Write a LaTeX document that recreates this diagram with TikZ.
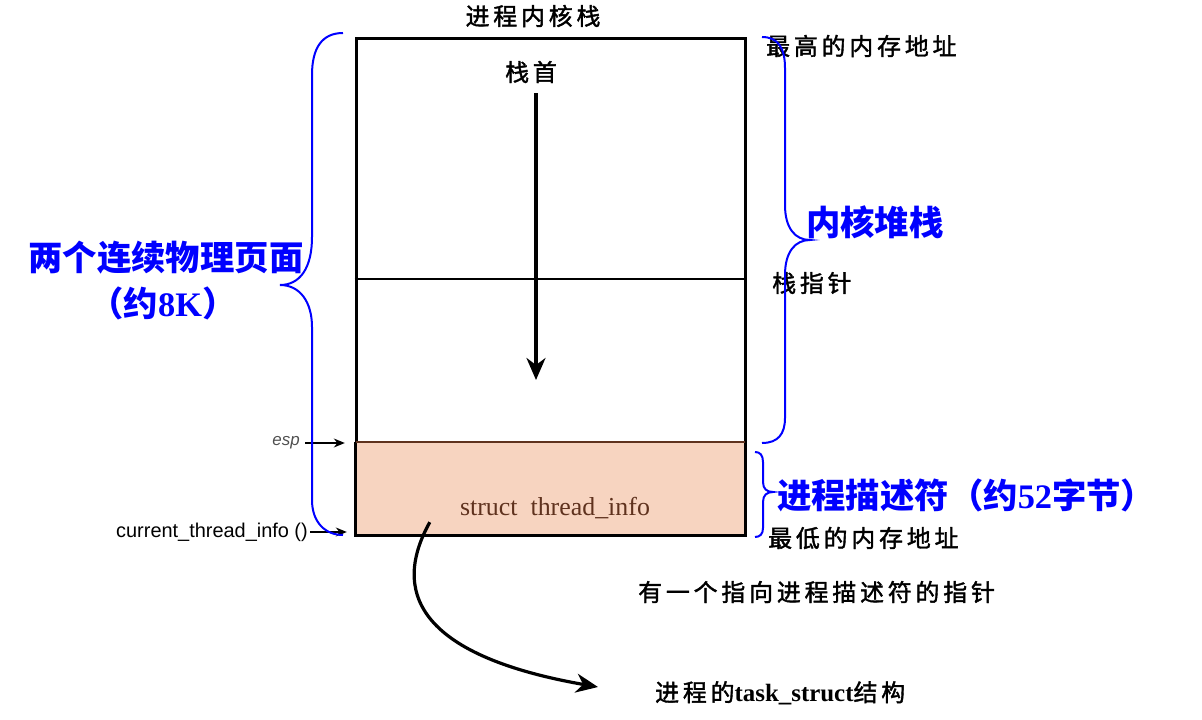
\documentclass[tikz,border=0pt]{standalone}
\usepackage{fontspec}
\newfontfamily\cjk[LetterSpace=16, FakeBold=1.6]{Noto Sans CJK SC}
\newfontfamily\cjkb{Noto Sans CJK SC}
\newfontfamily\lat{Liberation Serif}
\newfontfamily\lsans{Liberation Sans}
\usetikzlibrary{calc,arrows.meta,positioning}

\definecolor{pinkfill}{RGB}{247,212,192}
\definecolor{brownline}{RGB}{95,50,30}
\definecolor{labelgray}{RGB}{80,80,80}

\begin{document}
\begin{tikzpicture}[x=1bp, y=-1bp,
        blk/.style={inner sep=0pt, font=\cjk\fontsize{24}{24}\selectfont},
        blu/.style={inner sep=0pt, text=blue, font=\cjkb\bfseries\fontsize{34.5}{34.5}\selectfont},
        brc/.style={blue, line width=2bp},
        ptr/.style={-{Stealth[length=11bp, width=9bp]}, line width=1.3bp},
        bigptr/.style={-{Stealth[length=22bp, width=19bp, inset=7bp]}, line width=3.2bp}]
        \useasboundingbox (0,0) rectangle (1202,720);

        \node[draw, line width=3bp, minimum width=389bp, minimum height=403bp, inner sep=0pt] (stk) at (550.5,240.5) {};
        \node[fill=pinkfill, minimum width=389bp, minimum height=93bp, inner sep=0pt] (info) at (550.5,488.5) {};
        \draw[line width=3bp] (info.north west) -- (info.south west) -- (info.south east) -- (info.north east);
        \draw[brownline, line width=2.6bp] (info.north west) -- (info.north east);
        \draw[line width=2.2bp] (stk.west |- 0,279) -- (stk.east |- 0,279);

        \node[blk] (title) at (533,16) {进程内核栈};
        \node[blk] (top) at (531,72) {栈首};
        \coordinate (spend) at (536,380);
        \draw[bigptr] (top.south -| spend) ++(0,10) -- (spend);
        \node[inner sep=0pt, text=brownline, font=\lat\fontsize{26}{26}\selectfont] (tname) at (555,508) {struct\ \ thread\_info};

        \node[blk, anchor=west] (hiaddr) at (766,46) {最高的内存地址};
        \node[blk, anchor=west] (sp) at (772,283) {栈指针};
        \node[blk, anchor=west] (loaddr) at (768,538) {最低的内存地址};
        \node[blk, anchor=west] (note) at (638,592) {有一个指向进程描述符的指针};
        \node[inner sep=0pt, anchor=west, font=\fontsize{24}{24}\selectfont] (task) at (655,693) {{\cjk 进程的}{\lat\bfseries\fontsize{25}{25}\selectfont task\_struct}{\cjk 结构}};

        \node[inner sep=0pt, anchor=east, text=labelgray, font=\lsans\itshape\fontsize{17}{17}\selectfont] (esp) at (300,443) {esp};
        \node[inner sep=0pt, anchor=east, font=\lsans\fontsize{20}{20}\selectfont] (cti) at (308,532) {current\_thread\_info ()};
        \draw[ptr, shorten <=5bp, shorten >=11bp] (esp.east) -- (esp.east -| info.west);
        \draw[ptr, shorten <=2bp, shorten >=9bp] (cti.east) -- (cti.east -| info.west);

        \draw[bigptr] ([xshift=74bp, yshift=13bp]info.south west) .. controls (392,590) and (415,655) .. ([xshift=-57bp, yshift=6bp]task.west);

        \node[blu, anchor=west] (kstack) at (806,222) {内核堆栈};
        \node[blu] (pages) at (166,258) {两个连续物理页面};
        \node[blu] (size) at (163,303) {（约{\lat 8K}）};
        \node[blu, anchor=west] (desc) at (777,495) {进程描述符（约{\lat 52}字节）};

        \draw[brc] (762,37) .. controls (778,37) and (785,48) .. (785,68) -- (785,205) .. controls (785,228) and (795,240) .. (810,240) .. controls (795,240) and (785,252) .. (785,275) -- (785,418) .. controls (785,434) and (778,443) .. (762,443);
        \draw[brc] (343,33) .. controls (322,33) and (312,48) .. (312,75) -- (312,237) .. controls (312,268) and (300,285) .. (280,285) .. controls (300,285) and (312,302) .. (312,327) -- (312,500) .. controls (312,522) and (325,535) .. (343,535);
        \draw[brc] (755,452) .. controls (760,452) and (763,455) .. (763,462) -- (763,482) .. controls (763,489) and (767,492) .. (773,492) .. controls (767,492) and (763,495) .. (763,502) -- (763,528) .. controls (763,534) and (760,537) .. (755,537);
\end{tikzpicture}
\end{document}
